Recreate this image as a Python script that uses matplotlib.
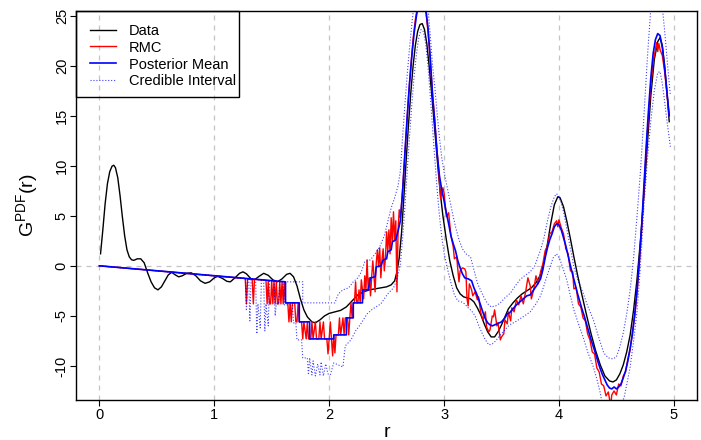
import matplotlib
matplotlib.use("Agg")
import matplotlib.pyplot as plt
from matplotlib.patches import Rectangle

plt.rcParams['font.family'] = ['Liberation Sans', 'DejaVu Sans']
plt.rcParams['mathtext.default'] = 'regular'

# experimental G(r)
data_r = [0.01, 0.03, 0.05, 0.07, 0.09, 0.11, 0.125, 0.14, 0.16, 0.18, 0.20, 0.22, 0.24, 0.26, 0.28,
          0.30, 0.33, 0.36, 0.39, 0.42, 0.45, 0.48, 0.51, 0.54, 0.57, 0.60, 0.63, 0.66, 0.69, 0.72,
          0.76, 0.80, 0.84, 0.88, 0.92, 0.96, 1.00, 1.03, 1.07, 1.11, 1.14, 1.18, 1.22, 1.25, 1.28,
          1.32, 1.35, 1.39, 1.43, 1.47, 1.51, 1.55, 1.59, 1.63, 1.66, 1.69, 1.72, 1.75, 1.78, 1.81,
          1.85, 1.88, 1.92, 1.96, 2.00, 2.05, 2.10, 2.15, 2.20, 2.25, 2.30, 2.35, 2.40, 2.45, 2.50,
          2.54, 2.57, 2.59, 2.61, 2.63, 2.65, 2.67, 2.69, 2.71, 2.73, 2.75, 2.77, 2.79, 2.81, 2.83,
          2.85, 2.87, 2.89, 2.91, 2.93, 2.95, 2.97, 2.99, 3.02, 3.05, 3.08, 3.11, 3.14, 3.17, 3.20,
          3.23, 3.26, 3.29, 3.32, 3.35, 3.38, 3.41, 3.44, 3.47, 3.50, 3.53, 3.56, 3.60, 3.64, 3.68,
          3.72, 3.76, 3.80, 3.84, 3.87, 3.90, 3.93, 3.96, 3.99, 4.01, 4.04, 4.07, 4.10, 4.13, 4.16,
          4.20, 4.24, 4.28, 4.32, 4.36, 4.40, 4.44, 4.47, 4.50, 4.53, 4.56, 4.59, 4.62, 4.65, 4.68,
          4.71, 4.74, 4.77, 4.80, 4.83, 4.86, 4.88, 4.90, 4.92, 4.94, 4.96]
data_g = [1.2, 3.6, 6.2, 8.2, 9.4, 9.95, 10.05, 9.8, 8.8, 7.0, 4.9, 3.0, 1.6, 0.9, 0.6,
          0.55, 0.7, 0.7, 0.3, -0.7, -1.6, -2.2, -2.4, -2.1, -1.5, -0.9, -0.65, -0.9, -1.1, -1.0,
          -0.75, -0.7, -1.0, -1.5, -1.75, -1.6, -1.2, -1.05, -1.25, -1.55, -1.6, -1.2, -0.75, -0.6, -0.8,
          -1.3, -1.4, -1.05, -0.75, -0.95, -1.4, -1.6, -1.3, -0.85, -0.75, -1.1, -2.0, -3.3, -4.4, -5.1,
          -5.6, -5.7, -5.4, -5.0, -4.75, -4.6, -4.45, -4.1, -3.5, -2.9, -2.6, -2.4, -2.3, -2.2, -2.1,
          -1.9, -1.5, -0.6, 0.8, 3.3, 6.8, 10.5, 14.0, 17.2, 19.9, 22.0, 23.4, 24.1, 24.2, 23.6,
          22.2, 20.0, 17.5, 14.8, 12.0, 9.4, 7.0, 5.0, 2.6, 0.5, -1.0, -2.2, -2.8, -3.1, -3.2,
          -3.3, -3.6, -4.2, -4.9, -5.8, -6.6, -7.1, -7.1, -6.6, -5.9, -5.1, -4.3, -3.7, -3.2, -2.8,
          -2.5, -2.2, -1.7, -0.9, 0.4, 2.2, 4.3, 6.1, 6.9, 6.8, 5.9, 4.4, 2.7, 0.9, -0.8,
          -2.9, -4.9, -6.8, -8.5, -9.9, -11.0, -11.5, -11.6, -11.4, -10.8, -9.9, -8.6, -6.9, -4.4, -1.3,
          2.6, 7.1, 12.2, 17.0, 20.6, 22.4, 22.8, 22.0, 20.0, 17.4, 14.4]

# RMC fit (r, G)
rmc = [(0.0, 0.0), (1.26, -1.26), (1.27, -1.27), (1.28, -3.8), (1.29, -1.29), (1.33, -1.33), (1.34, -3.8),
       (1.35, -1.35), (1.45, -1.45), (1.46, -3.8), (1.47, -1.47), (1.48, -3.8), (1.49, -3.8), (1.50, -1.5),
       (1.51, -3.8), (1.52, -1.52), (1.53, -3.8), (1.54, -1.54), (1.55, -3.8), (1.56, -3.8), (1.57, -1.57),
       (1.58, -3.8), (1.59, -1.59), (1.60, -3.8), (1.61, -1.61), (1.62, -3.7), (1.64, -3.7), (1.65, -5.6),
       (1.66, -3.7), (1.67, -5.6), (1.68, -3.7), (1.70, -3.7), (1.71, -5.6), (1.72, -5.6), (1.73, -3.7),
       (1.74, -5.6), (1.76, -5.6), (1.77, -7.3), (1.78, -5.6), (1.80, -7.3), (1.81, -5.6), (1.82, -7.3),
       (1.84, -7.3), (1.85, -5.6), (1.86, -7.3), (1.88, -5.6), (1.89, -7.3), (1.91, -7.3), (1.92, -5.6),
       (1.93, -7.3), (1.95, -5.6), (1.96, -7.3), (1.98, -7.3), (1.99, -8.8), (2.00, -7.3), (2.01, -5.6),
       (2.02, -7.3), (2.03, -9.0), (2.04, -6.9), (2.05, -8.7), (2.06, -6.9), (2.08, -6.9), (2.09, -5.2),
       (2.10, -6.9), (2.12, -5.2), (2.13, -6.9), (2.14, -5.2), (2.16, -5.2), (2.17, -6.9), (2.18, -5.2),
       (2.19, -3.7), (2.20, -5.2), (2.21, -3.7), (2.22, -3.7), (2.23, -1.6), (2.24, -3.7), (2.25, -3.7),
       (2.26, -2.4), (2.27, -3.7), (2.28, -1.4), (2.29, -2.4), (2.30, -3.3), (2.31, -1.0), (2.32, -2.4),
       (2.33, 0.6), (2.34, -2.4), (2.35, -1.2), (2.36, -3.0), (2.37, -1.1), (2.38, 0.5), (2.39, -1.1),
       (2.40, -2.6), (2.41, 0.3), (2.42, 1.6), (2.43, -0.1), (2.44, 1.8), (2.45, -1.2), (2.46, 0.6),
       (2.47, 1.7), (2.48, -0.5), (2.49, 0.8), (2.50, 3.4), (2.51, 1.4), (2.52, 3.6), (2.53, 1.2),
       (2.54, 4.8), (2.55, 2.3), (2.56, 5.4), (2.57, 2.5), (2.58, 4.5), (2.59, -2.6), (2.60, 3.6),
       (2.61, 5.6), (2.62, 4.8), (2.63, 6.2), (2.65, 9.5), (2.67, 13.2), (2.69, 16.8), (2.71, 19.8),
       (2.73, 22.6), (2.75, 24.6), (2.77, 26.0), (2.79, 27.2), (2.81, 26.3), (2.82, 27.0), (2.84, 25.6),
       (2.86, 23.4), (2.88, 20.5), (2.90, 17.2), (2.92, 14.5), (2.93, 12.8), (2.95, 10.0), (2.96, 8.4),
       (2.97, 6.7), (2.99, 7.8), (3.00, 7.3), (3.02, 4.9), (3.04, 5.3), (3.06, 3.0), (3.08, 1.9),
       (3.09, 0.7), (3.11, 0.9), (3.13, -1.6), (3.14, -0.5), (3.16, -0.2), (3.18, -0.3), (3.19, -0.6),
       (3.20, -3.3), (3.21, -4.0), (3.22, -1.8), (3.24, -2.4), (3.25, -3.0), (3.27, -2.6), (3.29, -3.4),
       (3.30, -3.1), (3.32, -4.7), (3.34, -5.4), (3.36, -4.6), (3.37, -6.1), (3.39, -6.6), (3.40, -6.4),
       (3.42, -5.0), (3.43, -5.1), (3.44, -4.4), (3.46, -6.0), (3.47, -5.7), (3.49, -7.4), (3.50, -7.1),
       (3.52, -6.8), (3.53, -5.4), (3.55, -5.8), (3.56, -4.6), (3.58, -5.5), (3.59, -4.2), (3.61, -4.6),
       (3.63, -3.4), (3.65, -3.9), (3.67, -3.0), (3.69, -3.8), (3.71, -2.6), (3.73, -1.2), (3.75, -2.0),
       (3.76, -3.3), (3.78, -2.4), (3.80, -1.0), (3.82, -1.8), (3.84, -0.6), (3.86, 0.2), (3.88, 1.5),
       (3.90, 2.0), (3.92, 3.2), (3.94, 3.4), (3.96, 4.2), (3.98, 4.5), (3.99, 3.9), (4.00, 4.6),
       (4.02, 3.8), (4.04, 3.2), (4.06, 1.7), (4.08, 1.2), (4.10, -0.5), (4.12, -0.6), (4.13, -2.3),
       (4.15, -2.2), (4.17, -3.8), (4.19, -4.1), (4.21, -5.2), (4.23, -5.5), (4.25, -6.8), (4.27, -7.4),
       (4.29, -8.6), (4.31, -8.8), (4.33, -10.2), (4.35, -10.6), (4.37, -11.8), (4.39, -12.0), (4.41, -13.0),
       (4.43, -12.6), (4.45, -14.0), (4.46, -12.9), (4.48, -12.5), (4.50, -12.9), (4.52, -11.8), (4.54, -12.0),
       (4.56, -11.0), (4.58, -10.6), (4.60, -9.3), (4.62, -8.4), (4.64, -6.6), (4.66, -5.0), (4.68, -2.7),
       (4.70, 0.3), (4.72, 3.6), (4.74, 7.6), (4.76, 11.6), (4.78, 15.0), (4.80, 18.0), (4.82, 20.4),
       (4.84, 21.6), (4.85, 22.3), (4.86, 21.4), (4.87, 22.2), (4.88, 21.6), (4.90, 21.0), (4.92, 19.4),
       (4.94, 17.2), (4.96, 15.0)]

# posterior mean (r, G)
post_mean = [(0.0, 0.0), (1.62, -1.6), (1.62, -3.7), (1.74, -3.7), (1.74, -5.6), (1.83, -5.6), (1.83, -7.3),
             (2.04, -7.3), (2.04, -6.9), (2.15, -6.9), (2.15, -5.2), (2.21, -5.2), (2.21, -3.7), (2.29, -3.7),
             (2.29, -2.4), (2.34, -2.4), (2.36, -1.2), (2.40, -1.1), (2.41, -0.1), (2.45, 0.0), (2.47, 0.6),
             (2.50, 0.7), (2.51, 1.4), (2.54, 1.6), (2.55, 2.4), (2.58, 2.6), (2.60, 3.5), (2.62, 4.5),
             (2.64, 7.5), (2.66, 11.4), (2.68, 15.0), (2.70, 18.3), (2.72, 21.0), (2.74, 23.3), (2.76, 25.0),
             (2.78, 26.2), (2.80, 26.8), (2.82, 26.7), (2.84, 25.8), (2.86, 23.8), (2.88, 20.8), (2.90, 17.0),
             (2.92, 14.2), (2.94, 11.2), (2.96, 9.0), (2.98, 7.6), (3.00, 6.5), (3.02, 5.3), (3.04, 4.2),
             (3.06, 3.0), (3.08, 2.2), (3.10, 1.5), (3.12, 0.5), (3.14, -0.2), (3.16, -0.8), (3.18, -1.2),
             (3.21, -1.3), (3.24, -1.5), (3.26, -2.2), (3.28, -2.7), (3.30, -3.3), (3.32, -4.0), (3.34, -4.7),
             (3.36, -5.3), (3.38, -5.7), (3.40, -5.9), (3.42, -6.0), (3.44, -5.9), (3.46, -5.8), (3.48, -5.7),
             (3.50, -5.6), (3.53, -5.2), (3.55, -4.8), (3.57, -4.7), (3.60, -4.3), (3.63, -3.9), (3.66, -3.6),
             (3.69, -3.3), (3.72, -3.0), (3.75, -2.9), (3.78, -2.4), (3.81, -1.9), (3.84, -1.3), (3.86, -0.4),
             (3.88, 0.8), (3.90, 1.8), (3.92, 2.6), (3.94, 3.2), (3.96, 3.9), (3.98, 4.2), (4.00, 4.1),
             (4.02, 3.6), (4.04, 2.8), (4.06, 2.0), (4.08, 1.0), (4.10, 0.0), (4.12, -0.9), (4.14, -1.8),
             (4.16, -2.7), (4.18, -3.5), (4.20, -4.3), (4.22, -5.0), (4.24, -5.8), (4.26, -6.6), (4.28, -7.4),
             (4.30, -8.1), (4.32, -8.8), (4.34, -9.6), (4.36, -10.3), (4.38, -10.9), (4.40, -11.4), (4.42, -11.9),
             (4.44, -12.2), (4.46, -12.3), (4.48, -12.1), (4.50, -12.3), (4.52, -12.1), (4.54, -11.8), (4.56, -11.2),
             (4.58, -10.5), (4.60, -9.5), (4.62, -8.2), (4.64, -6.8), (4.66, -4.8), (4.68, -2.4), (4.70, 0.5),
             (4.72, 4.0), (4.74, 8.0), (4.76, 12.0), (4.78, 15.6), (4.80, 18.8), (4.82, 21.2), (4.84, 22.6),
             (4.86, 23.2), (4.88, 23.0), (4.90, 21.8), (4.92, 19.8), (4.94, 17.4), (4.96, 15.0)]

# credible interval, upper and lower (r, G)
ci_upper = [(0.0, 0.0), (1.25, -1.25), (1.62, -1.6), (1.77, -1.6), (1.77, -3.7), (2.05, -3.7), (2.08, -2.8),
            (2.12, -2.4), (2.17, -2.2), (2.21, -1.6), (2.25, -1.2), (2.28, -0.6), (2.31, 0.4), (2.36, 0.6),
            (2.40, 1.2), (2.44, 1.9), (2.48, 3.0), (2.51, 4.4), (2.54, 5.8), (2.57, 6.8), (2.60, 8.0),
            (2.62, 9.5), (2.64, 13.0), (2.66, 16.2), (2.68, 19.2), (2.70, 21.8), (2.72, 24.2), (2.74, 26.3),
            (2.76, 28.0), (2.80, 29.5), (2.84, 28.0), (2.86, 25.8), (2.88, 23.0), (2.90, 20.0), (2.92, 17.8),
            (2.94, 15.2), (2.96, 12.8), (2.98, 10.8), (3.00, 9.4), (3.03, 7.7), (3.06, 6.0), (3.08, 4.9),
            (3.10, 3.9), (3.13, 2.6), (3.16, 1.7), (3.19, 1.2), (3.23, 0.9), (3.26, -0.4), (3.29, -1.7),
            (3.32, -2.5), (3.35, -3.2), (3.38, -3.8), (3.41, -4.1), (3.45, -4.0), (3.49, -3.7), (3.53, -3.2),
            (3.58, -2.7), (3.62, -2.0), (3.66, -1.4), (3.70, -1.0), (3.75, -0.6), (3.79, 0.0), (3.84, 1.6),
            (3.87, 2.8), (3.90, 4.5), (3.93, 5.9), (3.96, 6.9), (3.98, 7.2), (4.01, 6.7), (4.04, 5.4),
            (4.07, 3.6), (4.10, 1.7), (4.13, -0.1), (4.17, -1.6), (4.21, -2.7), (4.25, -4.0), (4.30, -5.4),
            (4.35, -7.3), (4.39, -8.7), (4.43, -9.2), (4.47, -9.3), (4.50, -9.1), (4.53, -8.1), (4.56, -6.7),
            (4.59, -4.8), (4.62, -2.4), (4.65, 0.8), (4.68, 5.0), (4.71, 9.5), (4.74, 15.0), (4.77, 20.8),
            (4.80, 25.8), (4.83, 29.0), (4.86, 29.5), (4.89, 27.0), (4.92, 23.5), (4.95, 19.5), (4.97, 17.0)]
ci_lower = [(0.0, 0.0), (1.25, -1.25), (1.27, -1.27), (1.28, -4.5), (1.29, -1.3), (1.30, -1.3), (1.31, -5.5),
            (1.32, -1.3), (1.36, -1.35), (1.37, -6.8), (1.38, -3.8), (1.40, -6.2), (1.41, -1.4), (1.43, -1.45),
            (1.44, -6.5), (1.45, -3.8), (1.47, -6.0), (1.48, -1.5), (1.52, -1.5), (1.53, -5.0), (1.54, -3.8),
            (1.56, -3.8), (1.57, -1.6), (1.60, -1.6), (1.61, -3.9), (1.68, -3.9), (1.69, -5.7), (1.71, -5.7),
            (1.72, -7.4), (1.76, -7.4), (1.77, -9.2), (1.81, -9.2), (1.82, -10.9), (1.83, -9.2), (1.85, -10.9),
            (1.86, -9.5), (1.88, -11.0), (1.90, -9.8), (1.92, -10.9), (1.93, -9.6), (1.95, -11.0), (1.97, -9.8),
            (1.99, -10.8), (2.01, -10.9), (2.04, -9.7), (2.08, -9.9), (2.12, -10.1), (2.14, -8.0), (2.19, -7.4),
            (2.23, -6.5), (2.27, -5.9), (2.33, -4.8), (2.38, -4.3), (2.45, -3.8), (2.51, -2.8), (2.56, -2.2),
            (2.59, -1.4), (2.62, 0.2), (2.64, 2.8), (2.66, 6.0), (2.68, 9.6), (2.70, 13.0), (2.72, 16.2),
            (2.74, 19.0), (2.76, 21.2), (2.78, 22.8), (2.80, 23.6), (2.82, 23.4), (2.84, 22.2), (2.86, 20.0),
            (2.88, 17.0), (2.90, 13.8), (2.92, 10.6), (2.94, 7.6), (2.96, 5.0), (2.98, 2.9), (3.00, 1.3),
            (3.03, -0.3), (3.06, -1.7), (3.09, -2.9), (3.12, -3.5), (3.15, -3.6), (3.18, -3.8), (3.21, -4.2),
            (3.24, -4.5), (3.27, -5.0), (3.30, -5.9), (3.33, -6.7), (3.36, -7.4), (3.39, -7.9), (3.42, -7.8),
            (3.45, -7.5), (3.49, -6.9), (3.53, -6.4), (3.57, -5.9), (3.62, -5.6), (3.66, -5.3), (3.70, -5.0),
            (3.75, -4.6), (3.80, -3.8), (3.84, -3.0), (3.88, -1.6), (3.92, -0.2), (3.95, 0.8), (3.98, 1.2),
            (4.01, 0.6), (4.04, -0.4), (4.07, -1.5), (4.10, -3.0), (4.13, -4.4), (4.17, -5.8), (4.21, -7.1),
            (4.25, -8.6), (4.30, -10.1), (4.33, -11.3), (4.36, -12.7), (4.38, -14.0), (4.45, -15.0), (4.52, -15.0),
            (4.57, -13.0), (4.60, -11.3), (4.62, -10.1), (4.65, -7.5), (4.68, -4.5), (4.70, -1.5), (4.72, 2.0),
            (4.74, 6.0), (4.77, 10.6), (4.80, 14.5), (4.83, 17.5), (4.86, 19.3), (4.88, 19.4), (4.90, 18.2),
            (4.92, 16.4), (4.94, 14.5), (4.97, 11.9)]

x_ticks = [0, 1, 2, 3, 4, 5]
y_ticks = [-10, -5, 0, 5, 10, 15, 20, 25]


fig = plt.figure(figsize=(7.01, 4.40), dpi=100)
ax = fig.add_axes([0.109, 0.091, 0.885, 0.885])

# reference lines
for v in x_ticks:
	ax.axvline(v, color='#c4c4c4', lw=0.9, ls=(0, (4, 4)), zorder=0)
ax.axhline(0, color='#c4c4c4', lw=0.9, ls=(0, (4, 4)), zorder=0)

ax.plot(data_r, data_g, color='black', lw=1.0, label='Data')
ax.plot([p[0] for p in rmc], [p[1] for p in rmc], color='red', lw=1.0, label='RMC')
ax.plot([p[0] for p in post_mean], [p[1] for p in post_mean], color='blue', lw=1.2, label='Posterior Mean')
ax.plot([p[0] for p in ci_upper], [p[1] for p in ci_upper], color='blue', alpha=0.75, lw=0.8, ls=':',
        label='Credible Interval')
ax.plot([p[0] for p in ci_lower], [p[1] for p in ci_lower], color='blue', alpha=0.75, lw=0.8, ls=':')

ax.set_xlim(-0.2, 5.2)
ax.set_ylim(-13.4, 25.5)
ax.set_xticks(x_ticks)
ax.set_yticks(y_ticks)
ax.set_yticklabels([str(t) for t in y_ticks], rotation=90, va='center', ha='center')
ax.tick_params(labelsize=10.5, length=4.5, width=0.8)
ax.tick_params(axis='x', pad=1)
ax.tick_params(axis='y', pad=6)
for s in ax.spines.values():
	s.set_linewidth(1.0)

ax.set_xlabel('r', fontsize=14, va='top')
ax.xaxis.set_label_coords(0.5, -0.062)
ax.set_ylabel('G$^{PDF}$(r)', fontsize=14)
ax.yaxis.set_label_coords(-0.058, 0.5)

# legend flush with the top-left corner, with R-style box
leg = ax.legend(loc='upper left', fontsize=10.5, frameon=False, borderaxespad=0,
                handlelength=1.8, handletextpad=0.9, labelspacing=0.2, borderpad=0.9)
ax.add_patch(Rectangle((0, 1 - 0.221), 0.2615, 0.221, transform=ax.transAxes, fill=False,
                       edgecolor='black', lw=1.0, zorder=5, clip_on=False))

fig.savefig('out.png', dpi=100)
